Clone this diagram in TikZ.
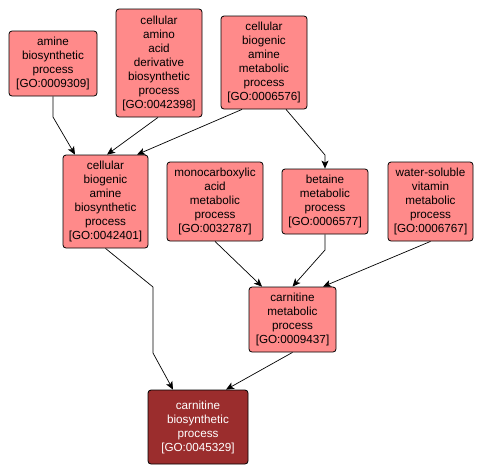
\documentclass[tikz,border=0pt]{standalone}
\usepackage{fontspec}
\setmainfont{Liberation Sans}
\usetikzlibrary{arrows.meta,calc}
\definecolor{lightgo}{RGB}{255,138,138}
\definecolor{darkgo}{RGB}{155,45,45}
\tikzset{
  gobox/.style={draw=black, line width=0.8pt, fill=lightgo, rounded corners=3pt, align=center,
    inner sep=0pt, font=\fontsize{11.7}{14}\selectfont, text=black},
  godark/.style={gobox, fill=darkgo, text=white},
  link/.style={draw=black, line width=0.7pt, -{Stealth[length=8pt,width=7pt,inset=2pt]}},
}
\begin{document}
\begin{tikzpicture}[x=1pt,y=-1pt]
\useasboundingbox (0,0) rectangle (484,475);
\node[gobox, minimum width=88pt, minimum height=65pt] (n1) at (53,63.5) {amine\\biosynthetic\\process\\{[GO:0009309]}};
\node[gobox, minimum width=86pt, minimum height=108pt] (n2) at (159,63) {cellular\\amino\\acid\\derivative\\biosynthetic\\process\\{[GO:0042398]}};
\node[gobox, minimum width=86pt, minimum height=93pt] (n3) at (264,62.5) {cellular\\biogenic\\amine\\metabolic\\process\\{[GO:0006576]}};
\node[gobox, minimum width=85pt, minimum height=93pt] (n4) at (105.5,201.5) {cellular\\biogenic\\amine\\biosynthetic\\process\\{[GO:0042401]}};
\node[gobox, minimum width=96pt, minimum height=79pt] (n5) at (215,201.5) {monocarboxylic\\acid\\metabolic\\process\\{[GO:0032787]}};
\node[gobox, minimum width=86pt, minimum height=65pt] (n6) at (325,201.5) {betaine\\metabolic\\process\\{[GO:0006577]}};
\node[gobox, minimum width=85pt, minimum height=79pt] (n7) at (430.5,201.5) {water-soluble\\vitamin\\metabolic\\process\\{[GO:0006767]}};
\node[gobox, minimum width=87pt, minimum height=65pt] (n8) at (292.5,319.5) {carnitine\\metabolic\\process\\{[GO:0009437]}};
\node[godark, minimum width=100pt, minimum height=74pt] (n9) at (198,427) {carnitine\\biosynthetic\\process\\{[GO:0045329]}};
\coordinate (b1) at (53,117);
\coordinate (b3) at (325,155);
\coordinate (b4a) at (153,287);
\coordinate (b4b) at (153,353);
\coordinate (b6) at (325,250);
\draw[link] (n1.south) -- (b1) -- ([xshift=-30.5pt]n4.north);
\draw[link] ([xshift=-1pt]n2.south) -- ([xshift=1.5pt]n4.north);
\draw[link] ([xshift=-22pt]n3.south) -- ([xshift=31.5pt]n4.north);
\draw[link] ([xshift=22pt]n3.south) -- (b3) -- (n6.north);
\draw[link] (n4.south) -- (b4a) -- (b4b) -- ([xshift=-25pt]n9.north);
\draw[link] (n5.south) -- ([xshift=-30.5pt]n8.north);
\draw[link] (n6.south) -- (b6) -- (n8.north);
\draw[link] (n7.south) -- ([xshift=30.5pt]n8.north);
\draw[link] (n8.south) -- ([xshift=28pt]n9.north);
\end{tikzpicture}
\end{document}
